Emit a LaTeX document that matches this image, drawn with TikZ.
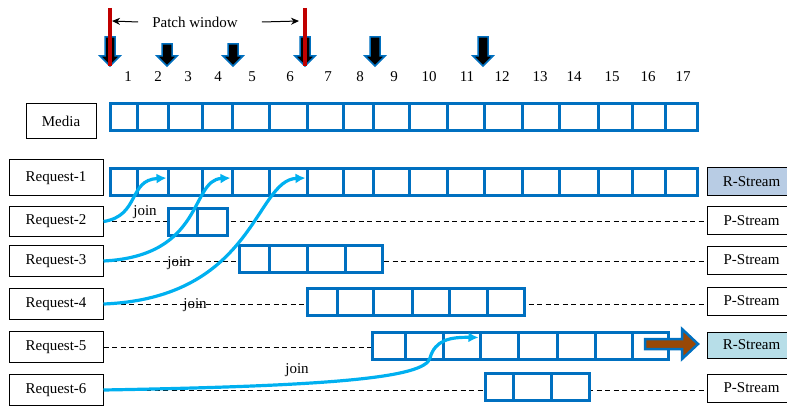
\documentclass[tikz,border=0pt]{standalone}
\usepackage{fontspec}
\setmainfont{Liberation Serif}
\usetikzlibrary{arrows.meta,positioning}

\definecolor{cellblue}{HTML}{0070C0}
\definecolor{joinblue}{HTML}{00B0F0}
\definecolor{patchred}{HTML}{C00000}
\definecolor{rstreamfill}{HTML}{B8CCE4}
\definecolor{rstreamfilltwo}{HTML}{B7DEE8}
\definecolor{pushbrown}{HTML}{984807}

\begin{document}
\begin{tikzpicture}[
        x=1pt, y=-1pt,
        lbl/.style={font=\fontsize{15}{18}\selectfont, inner sep=0pt},
        reqbox/.style={lbl, draw, line width=1pt, minimum width=94, minimum height=31},
        streambox/.style={lbl, draw, line width=1pt, minimum width=88, minimum height=28, anchor=west},
        cell/.style={draw=cellblue, line width=3pt, fill=white, inner sep=0pt, minimum height=27},
        dashline/.style={line width=0.9pt, dash pattern=on 5pt off 3.5pt},
        joinarrow/.style={joinblue, line width=3.2pt, -{Latex[length=10pt,width=10pt]}},
        downarrow/.style={fill=black, draw=cellblue, line width=1.5pt, line join=miter},
        patchline/.style={patchred, line width=4pt},
        pwarrow/.style={line width=1pt, -{Stealth[length=8pt,width=7pt]}},
        pusharrow/.style={fill=pushbrown, draw=cellblue, line width=2.5pt, line join=miter}
      ]
      \useasboundingbox (0,0) rectangle (787,406);

      % slot numbers and patch window
      \foreach \x [count=\i] in {128,158,188,218,252,290,328,360,394,429,467,502,540,574,612,648,683}
        \node[lbl] (n\i) at (\x,77) {\i};
      \foreach \x/\t in {110/37,167/44,233/44,305/37,375/37,483/37}
        \draw[downarrow] (\x-5,\t) -- (\x+5,\t) -- (\x+5,56) -- (\x+10,56) -- (\x,66)
          -- (\x-10,56) -- (\x-5,56) -- cycle;
      \draw[patchline] (110,8) -- (110,66);
      \draw[patchline] (305,8) -- (305,66);
      \node[lbl] (pw) at (195,22) {Patch window};
      \coordinate (pl) at (112,21);
      \coordinate (pr) at (299,21);
      \draw[pwarrow] ([xshift=-14pt]pw.west) -- (pl);
      \draw[pwarrow] ([xshift=24pt]pw.east) -- (pr);

      % left boxes
      \node[reqbox, minimum width=70, minimum height=35] (media) at (61,121.5) {Media};
      \node[reqbox, minimum height=36] (req1) at (56,178) {Request-1};
      \node[reqbox, minimum height=30] (req2) at (56,221.5) {Request-2};
      \node[reqbox] (req3) at (56,261) {Request-3};
      \node[reqbox] (req4) at (56,304) {Request-4};
      \node[reqbox] (req5) at (56,347) {Request-5};
      \node[reqbox] (req6) at (56,390) {Request-6};

      % right boxes
      \node[streambox, fill=rstreamfill] (rs1) at (707,182) {R-Stream};
      \node[streambox] (ps2) at (707,221) {P-Stream};
      \node[streambox] (ps3) at (707,260) {P-Stream};
      \node[streambox] (ps4) at (707,301) {P-Stream};
      \node[streambox, fill=rstreamfilltwo, minimum height=26] (rs5) at (707,345) {R-Stream};
      \node[streambox] (ps6) at (707,388) {P-Stream};

      % dashed streams
      \draw[dashline] (req2.east) -- (req2.east -| ps2.west);
      \draw[dashline] (req3.east) -- (req3.east -| ps3.west);
      \draw[dashline] (req4.east) -- (req4.east -| ps4.west);
      \draw[dashline] (req5.east) -- (req5.east -| 372,0);
      \draw[dashline] (req6.east) -- (req6.east -| ps6.west);

      % segments
      \foreach \row/\y in {m/117.5, a/182}
        \foreach \b [remember=\b as \a (initially 110), count=\i] in {137,168,202,232,269,307,343,373,409,447,484,522,559,598,632,665,697}
          \node[cell, minimum width={\b-\a}] (\row\i) at ({(\a+\b)/2},\y) {};
      \foreach \b [remember=\b as \a (initially 168), count=\i] in {197,227}
        \node[cell, minimum width={\b-\a}] (b\i) at ({(\a+\b)/2},222) {};
      \foreach \b [remember=\b as \a (initially 239), count=\i] in {269,307,345,382}
        \node[cell, minimum width={\b-\a}] (c\i) at ({(\a+\b)/2},258.5) {};
      \foreach \b [remember=\b as \a (initially 307), count=\i] in {337,373,412,449,487,524}
        \node[cell, minimum width={\b-\a}] (d\i) at ({(\a+\b)/2},302) {};
      \foreach \b [remember=\b as \a (initially 372), count=\i] in {405,443,480,518,557,595,632,668}
        \node[cell, minimum width={\b-\a}] (e\i) at ({(\a+\b)/2},345.5) {};
      \foreach \b [remember=\b as \a (initially 485), count=\i] in {513,551,589}
        \node[cell, minimum width={\b-\a}] (f\i) at ({(\a+\b)/2},387) {};

      \draw[pusharrow] (645,339) -- (682,339) -- (682,329) -- (698,344) -- (682,359)
        -- (682,349) -- (645,349) -- cycle;

      % joins
      \draw[joinarrow] (req2.east) .. controls (140,216) and (128,180) .. ([yshift=4pt]a3.west);
      \draw[joinarrow] (req3.east) .. controls (205,256) and (190,180) .. ([yshift=4pt]a5.west);
      \draw[joinarrow] (req4.east) .. controls (255,298) and (255,180) .. ([yshift=4pt]a7.west);
      \draw[joinarrow] (req6.east) .. controls (330,386) and (425,378) .. (430,358)
        .. controls (435,340) and (450,337) .. ([yshift=8pt]e4.west);
      \node[lbl] (j1) at (145,212) {join};
      \node[lbl] (j2) at (179,263) {join};
      \node[lbl] (j3) at (195,305) {join};
      \node[lbl] (j4) at (297,370) {join};
      \end{tikzpicture}
\end{document}
